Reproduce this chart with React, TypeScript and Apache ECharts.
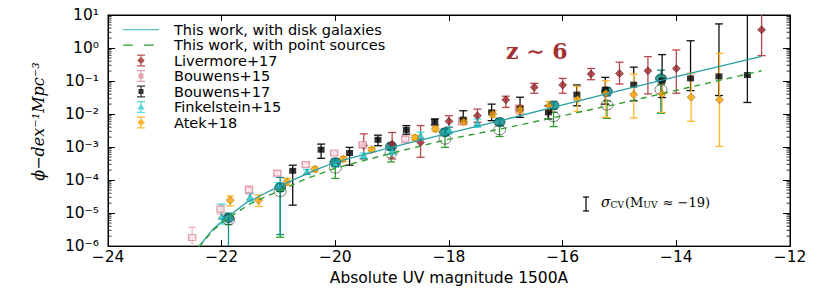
import React, { useEffect, useRef } from "react";
import * as echarts from "echarts";

// ---------- data (log10 of phi) ----------
const xTicks = [-24, -22, -20, -18, -16, -14, -12];

const diskLineM = [-22.4, -22.15, -21.9, -21.56, -21.0, -20.39, -20.0, -19.0, -18.0, -17.0, -16.0, -15.0, -14.0, -12.5];
const diskLineLogPhi = [-6.02, -5.48, -5.12, -4.68, -4.2, -3.72, -3.46, -3.0, -2.58, -2.16, -1.72, -1.29, -0.87, -0.25];

const pointLineM = [-22.4, -22.15, -21.9, -21.5, -21.0, -20.5, -20.0, -19.0, -18.0, -17.0, -16.0, -15.0, -14.0, -12.5];
const pointLineLogPhi = [-6.02, -5.52, -5.17, -4.72, -4.33, -3.95, -3.64, -3.18, -2.76, -2.42, -2.05, -1.68, -1.28, -0.69];

const modelM = [-21.88, -20.97, -20.0, -19.02, -18.07, -17.11, -16.16, -15.22, -14.27];
const diskLogPhi = [-5.15, -4.22, -3.46, -2.98, -2.55, -2.24, -1.74, -1.32, -0.92];
const diskLo = [-7, -5.65, -3.6, -3.1, -2.65, -2.35, -1.85, -1.45, -1.97];
const diskHi = [-5.0, -3.92, -3.35, -2.88, -2.45, -2.15, -1.62, -1.2, -0.67];
const pointLogPhi = [-5.2, -4.35, -3.64, -3.18, -2.76, -2.48, -2.08, -1.73, -1.26];
const pointLo = [-5.35, -5.73, -3.95, -3.45, -3.01, -2.68, -2.38, -2.13, -1.97];
const pointHi = [-5.05, -4.35, -3.45, -3.05, -2.65, -2.35, -1.95, -1.6, -1.1];

const livermoreM = [-19.5, -19.0, -18.5, -18.0, -17.5, -17.0, -16.5, -16.0, -15.5, -15.0, -14.5, -14.0, -12.5];
const livermoreLogPhi = [-2.95, -2.91, -2.86, -2.22, -2.05, -1.57, -1.19, -1.12, -0.79, -0.77, -0.69, -0.62, 0.55];
const livermoreLo = [-3.36, -3.36, -3.31, -2.4, -2.25, -1.8, -1.37, -1.37, -0.96, -1.09, -1.39, -1.37, -0.23];
const livermoreHi = [-2.6, -2.56, -2.35, -2.05, -1.85, -1.46, -1.07, -0.92, -0.62, -0.43, -0.26, -0.06, 1.3];

const bouwens15M = [-22.52, -22.02, -21.52, -21.02, -20.52, -20.02, -19.52, -18.77, -17.77, -16.77];
const bouwens15LogPhi = [-5.74, -4.88, -4.3, -3.79, -3.53, -3.18, -2.93, -2.76, -2.22, -1.85];
const bouwens15Lo = [-6.4, -5.03, -4.42, -3.87, -3.59, -3.23, -3.02, -2.87, -2.33, -2.0];
const bouwens15Hi = [-5.43, -4.73, -4.18, -3.72, -3.47, -3.13, -2.85, -2.66, -2.12, -1.72];

const bouwens17M = [-20.75, -20.25, -19.75, -19.25, -18.75, -18.25, -17.75, -17.25, -16.75, -16.25, -15.75, -15.25, -14.75, -14.25, -13.75, -13.25, -12.75];
const bouwens17LogPhi = [-3.72, -3.08, -3.18, -2.78, -2.48, -2.23, -2.17, -1.95, -1.83, -1.95, -1.41, -1.26, -1.11, -0.99, -0.92, -0.86, -0.82];
const bouwens17Lo = [-4.76, -3.34, -3.55, -2.96, -2.61, -2.33, -2.3, -2.2, -2.1, -2.15, -1.75, -1.7, -1.6, -1.5, -1.29, -1.44, -1.65];
const bouwens17Hi = [-3.55, -2.91, -3.01, -2.64, -2.35, -2.15, -1.9, -1.7, -1.49, -1.75, -1.12, -0.89, -0.58, -0.2, 0.22, 0.73, 1.3];

const finkelsteinM = [-22.0, -21.5, -21.0, -20.5, -20.0, -19.5, -19.0, -18.5, -18.0, -17.5];
const finkelsteinLogPhi = [-5.1, -4.52, -4.17, -3.75, -3.5, -3.26, -3.11, -2.66, -2.48, -2.27];
const finkelsteinLo = [-5.33, -4.65, -4.25, -3.82, -3.57, -3.35, -3.22, -2.78, -2.6, -2.4];
const finkelsteinHi = [-4.73, -4.4, -4.08, -3.68, -3.43, -3.18, -3.0, -2.55, -2.38, -2.15];

const atekM = [-21.85, -21.35, -20.85, -20.36, -19.86, -19.36, -18.6, -18.24, -17.74, -17.23, -16.75, -16.24, -15.74, -15.24, -14.75, -14.25, -13.74, -13.24];
const atekLogPhi = [-4.61, -4.61, -4.05, -3.67, -3.36, -3.08, -2.72, -2.45, -2.23, -2.0, -1.86, -1.75, -1.55, -1.37, -1.41, -1.39, -1.49, -1.57];
const atekLo = [-4.78, -4.8, -4.15, -3.75, -3.44, -3.15, -2.8, -2.53, -2.32, -2.1, -1.98, -1.9, -1.92, -2.1, -2.12, -1.95, -2.22, -2.98];
const atekHi = [-4.48, -4.45, -3.95, -3.6, -3.29, -3.01, -2.64, -2.38, -2.14, -1.9, -1.75, -1.62, -1.16, -0.99, -0.79, -0.84, -0.76, -0.16];

// ---------- helpers ----------
const p10 = (v: number) => Math.pow(10, v);
const pts = (m: number[], lp: number[]) => m.map((x, i) => [x, p10(lp[i])]);
const errs = (m: number[], lo: number[], hi: number[]) => m.map((x, i) => [x, p10(lo[i]), p10(hi[i])]);

const supMap: Record<string, string> = { "-": "⁻", "0": "⁰", "1": "¹", "2": "²", "3": "³", "4": "⁴", "5": "⁵", "6": "⁶", "7": "⁷", "8": "⁸", "9": "⁹" };
const sup = (s: string) => s.split("").map((c) => supMap[c] || c).join("");

const errRender = (color: string, cap: number, lw: number) => (params: any, api: any) => {
  const x = api.value(0);
  const a = api.coord([x, api.value(1)]);
  const b = api.coord([x, api.value(2)]);
  const st = { stroke: color, lineWidth: lw };
  return {
    type: "group",
    children: [
      { type: "line", shape: { x1: a[0], y1: a[1], x2: b[0], y2: b[1] }, style: st },
      { type: "line", shape: { x1: a[0] - cap, y1: a[1], x2: a[0] + cap, y2: a[1] }, style: st },
      { type: "line", shape: { x1: b[0] - cap, y1: b[1], x2: b[0] + cap, y2: b[1] }, style: st },
    ],
  };
};

const errSeries = (name: string, data: number[][], color: string) => ({
  name,
  type: "custom",
  clip: true,
  silent: true,
  renderItem: errRender(color, 4, 1.3),
  encode: { x: 0, y: [1, 2] },
  data,
});

const ANCH = "M0,0h0.01v0.01h-0.01z M46,14h-0.01v-0.01h0.01z ";
const BAR = "M17.4,1h1.2v12h-1.2z M14,1h8v1.2h-8z M14,11.8h8v1.2h-8z ";
const icons = {
  solid: "path://" + ANCH + "M0,6.4h36v1.3h-36z",
  dashed: "path://" + ANCH + "M0,6.4h10v1.4h-10z M21,6.4h10v1.4h-10z",
  diamond: "path://" + ANCH + BAR + "M18,3.3L21.7,7L18,10.7L14.3,7z",
  square: "path://" + ANCH + BAR + "M15.5,4.5h5v5h-5z",
  triangle: "path://" + ANCH + BAR + "M18,3.5L21.6,9.6L14.4,9.6z",
};

const C = {
  teal: "#2a9fa6",
  green: "#2e9e2e",
  liv: "#a0252a",
  livBar: "#b6484c",
  b15Edge: "#d98a99",
  b15Bar: "#f4b4bf",
  b17: "#000000",
  fink: "#28d0d0",
  finkBar: "#3ee0e0",
  atek: "#ffa500",
  atekBar: "#ffb62e",
};

export default function App() {
  const ref = useRef<HTMLDivElement>(null);
  useEffect(() => {
    if (!ref.current) return;
    const chart = echarts.init(ref.current, null, { renderer: "svg" });
    const font = "DejaVu Sans";
    const option: any = {
      animation: false,
      backgroundColor: "#ffffff",
      grid: { left: 108, right: 40, top: 15, bottom: 44, show: true, borderColor: "#000", borderWidth: 1 },
      legend: {
        orient: "vertical",
        left: 123,
        top: 22,
        padding: 0,
        itemWidth: 46,
        itemHeight: 14,
        itemGap: 0.5,
        selectedMode: false,
        textStyle: { fontFamily: font, fontSize: 14.5, color: "#000", lineHeight: 14 },
        data: [
          { name: "This work, with disk galaxies", icon: icons.solid, itemStyle: { color: "#5ec1c8", borderWidth: 0 } },
          { name: "This work, with point sources", icon: icons.dashed, itemStyle: { color: C.green, borderWidth: 0 } },
          { name: "Livermore+17", icon: icons.diamond, itemStyle: { color: C.liv, borderWidth: 0 } },
          { name: "Bouwens+15", icon: icons.square, itemStyle: { color: C.b15Edge, borderWidth: 0 } },
          { name: "Bouwens+17", icon: icons.square, itemStyle: { color: C.b17, borderWidth: 0 } },
          { name: "Finkelstein+15", icon: icons.triangle, itemStyle: { color: C.fink, borderWidth: 0 } },
          { name: "Atek+18", icon: icons.diamond, itemStyle: { color: C.atek, borderWidth: 0 } },
        ],
      },
      xAxis: [
        {
          type: "value",
          min: xTicks[0],
          max: xTicks[xTicks.length - 1],
          interval: 2,
          name: "Absolute UV magnitude 1500A",
          nameLocation: "middle",
          nameGap: 18,
          nameTextStyle: { fontFamily: font, fontSize: 15.5, color: "#000" },
          axisLine: { show: true, lineStyle: { color: "#000", width: 1 } },
          axisTick: { show: true, inside: true, length: 6, lineStyle: { color: "#000" } },
          axisLabel: {
            fontFamily: font,
            fontSize: 15.5,
            color: "#000",
            margin: 3,
            formatter: (v: number) => (v < 0 ? "−" + Math.abs(v) : String(v)),
          },
          splitLine: { show: false },
        },
        {
          type: "value",
          position: "top",
          min: xTicks[0],
          max: xTicks[xTicks.length - 1],
          interval: 2,
          axisLine: { show: true, lineStyle: { color: "#000" } },
          axisTick: { show: true, inside: true, length: 6, lineStyle: { color: "#000" } },
          axisLabel: { show: false },
          splitLine: { show: false },
        },
      ],
      yAxis: [
        {
          type: "log",
          logBase: 10,
          min: 1e-6,
          max: 10,
          splitNumber: 7,
          name: "ϕ−dex⁻¹Mpc⁻³",
          nameLocation: "middle",
          nameGap: 62,
          nameTextStyle: { fontFamily: "DejaVu Serif", fontStyle: "italic", fontSize: 16, color: "#000", padding: [0, 0, 0, 18] },
          axisLine: { show: true, lineStyle: { color: "#000" } },
          axisTick: { show: true, inside: true, length: 7, lineStyle: { color: "#000" } },
          axisLabel: {
            fontFamily: font,
            fontSize: 15.5,
            color: "#000",
            margin: 9,
            formatter: (v: number) => "10" + sup(String(Math.round(Math.log10(v)))),
          },
          splitLine: { show: false },
        },
        {
          type: "log",
          logBase: 10,
          min: 1e-6,
          max: 10,
          splitNumber: 7,
          position: "right",
          axisLine: { show: true, lineStyle: { color: "#000" } },
          axisTick: { show: true, inside: true, length: 7, lineStyle: { color: "#000" } },
          axisLabel: { show: false },
          splitLine: { show: false },
        },
      ],
      graphic: [
        {
          type: "text",
          left: 506,
          top: 40,
          style: { text: "z ∼ 6", font: 'bold 22px "DejaVu Serif"', fill: "#a2302f" },
        },
        { type: "line", shape: { x1: 586, y1: 197, x2: 586, y2: 211 }, style: { stroke: "#000", lineWidth: 1.2 } },
        { type: "line", shape: { x1: 583, y1: 197, x2: 589, y2: 197 }, style: { stroke: "#000", lineWidth: 1.2 } },
        { type: "line", shape: { x1: 583, y1: 211, x2: 589, y2: 211 }, style: { stroke: "#000", lineWidth: 1.2 } },
        {
          type: "text",
          left: 601,
          top: 195,
          style: {
            text: "{s|σ}{sub|CV}{p|(M}{sub|UV}{p| ≈ −19)}",
            rich: {
              s: { fontFamily: "DejaVu Serif", fontStyle: "italic", fontSize: 14, lineHeight: 16, verticalAlign: "bottom", fill: "#000" },
              sub: { fontFamily: "DejaVu Serif", fontSize: 9, lineHeight: 10, verticalAlign: "bottom", fill: "#000", padding: [0, 1, 0, 0] },
              p: { fontFamily: "DejaVu Serif", fontSize: 13, lineHeight: 16, verticalAlign: "bottom", fill: "#000" },
            },
          },
        },
      ],
      series: [
        {
          name: "minor ticks",
          type: "custom",
          silent: true,
          clip: false,
          data: [[xTicks[0], 1]],
          renderItem: (params: any, api: any) => {
            const children: any[] = [];
            for (let n = -6; n <= 0; n++) {
              for (let k = 2; k <= 9; k++) {
                const l = api.coord([xTicks[0], k * Math.pow(10, n)]);
                const r = api.coord([xTicks[xTicks.length - 1], k * Math.pow(10, n)]);
                children.push({ type: "line", shape: { x1: l[0], y1: l[1], x2: l[0] + 3.5, y2: l[1] }, style: { stroke: "#000", lineWidth: 0.8 } });
                children.push({ type: "line", shape: { x1: r[0] - 3.5, y1: r[1], x2: r[0], y2: r[1] }, style: { stroke: "#000", lineWidth: 0.8 } });
              }
            }
            return { type: "group", children };
          },
        },
        {
          name: "This work, with disk galaxies",
          type: "line",
          data: pts(diskLineM, diskLineLogPhi),
          showSymbol: false,
          clip: true,
          lineStyle: { color: C.teal, width: 1.3 },
          itemStyle: { color: C.teal },
        },
        {
          name: "This work, with point sources",
          type: "line",
          data: pts(pointLineM, pointLineLogPhi),
          showSymbol: false,
          clip: true,
          lineStyle: { color: C.green, width: 1.4, type: [6, 5] },
          itemStyle: { color: C.green },
        },
        errSeries("point err", errs(modelM, pointLo, pointHi), C.green),
        errSeries("disk err", errs(modelM, diskLo, diskHi), "#0f8f8f"),
        {
          name: "disk points",
          type: "scatter",
          data: pts(modelM, diskLogPhi),
          symbol: "circle",
          symbolSize: [11, 9],
          itemStyle: { color: "#008585", borderColor: "#003a3a", borderWidth: 0.8 },
        },
        {
          name: "point-source points",
          type: "scatter",
          data: pts(modelM, pointLogPhi),
          symbol: "circle",
          symbolSize: [12, 10],
          itemStyle: { color: "rgba(0,0,0,0)", borderColor: "#333", borderWidth: 0.8 },
        },
        errSeries("Livermore err", errs(livermoreM, livermoreLo, livermoreHi), C.livBar),
        {
          name: "Livermore+17",
          type: "scatter",
          data: pts(livermoreM, livermoreLogPhi),
          symbol: "diamond",
          symbolSize: [8, 8],
          itemStyle: { color: C.liv, borderColor: "#4a0e10", borderWidth: 0.6 },
        },
        errSeries("Bouwens15 err", errs(bouwens15M, bouwens15Lo, bouwens15Hi), C.b15Bar),
        {
          name: "Bouwens+15",
          type: "scatter",
          data: pts(bouwens15M, bouwens15LogPhi),
          symbol: "rect",
          symbolSize: [7, 6],
          itemStyle: { color: "#fde4ea", borderColor: C.b15Edge, borderWidth: 1.3 },
        },
        errSeries("Bouwens17 err", errs(bouwens17M, bouwens17Lo, bouwens17Hi), "#111"),
        {
          name: "Bouwens+17",
          type: "scatter",
          data: pts(bouwens17M, bouwens17LogPhi),
          symbol: "rect",
          symbolSize: [7, 6],
          itemStyle: { color: C.b17 },
        },
        errSeries("Finkelstein err", errs(finkelsteinM, finkelsteinLo, finkelsteinHi), C.finkBar),
        {
          name: "Finkelstein+15",
          type: "scatter",
          data: pts(finkelsteinM, finkelsteinLogPhi),
          symbol: "triangle",
          symbolSize: [7, 6],
          itemStyle: { color: C.fink, borderColor: "#106060", borderWidth: 0.6 },
        },
        errSeries("Atek err", errs(atekM, atekLo, atekHi), C.atekBar),
        {
          name: "Atek+18",
          type: "scatter",
          data: pts(atekM, atekLogPhi),
          symbol: "diamond",
          symbolSize: [8, 8],
          itemStyle: { color: C.atek, borderColor: "#6b4500", borderWidth: 0.6 },
        },
      ],
    };
    chart.setOption(option);
    return () => chart.dispose();
  }, []);
  return <div ref={ref} style={{ position: "fixed", left: 0, top: 0, width: 830, height: 291 }} />;
}
